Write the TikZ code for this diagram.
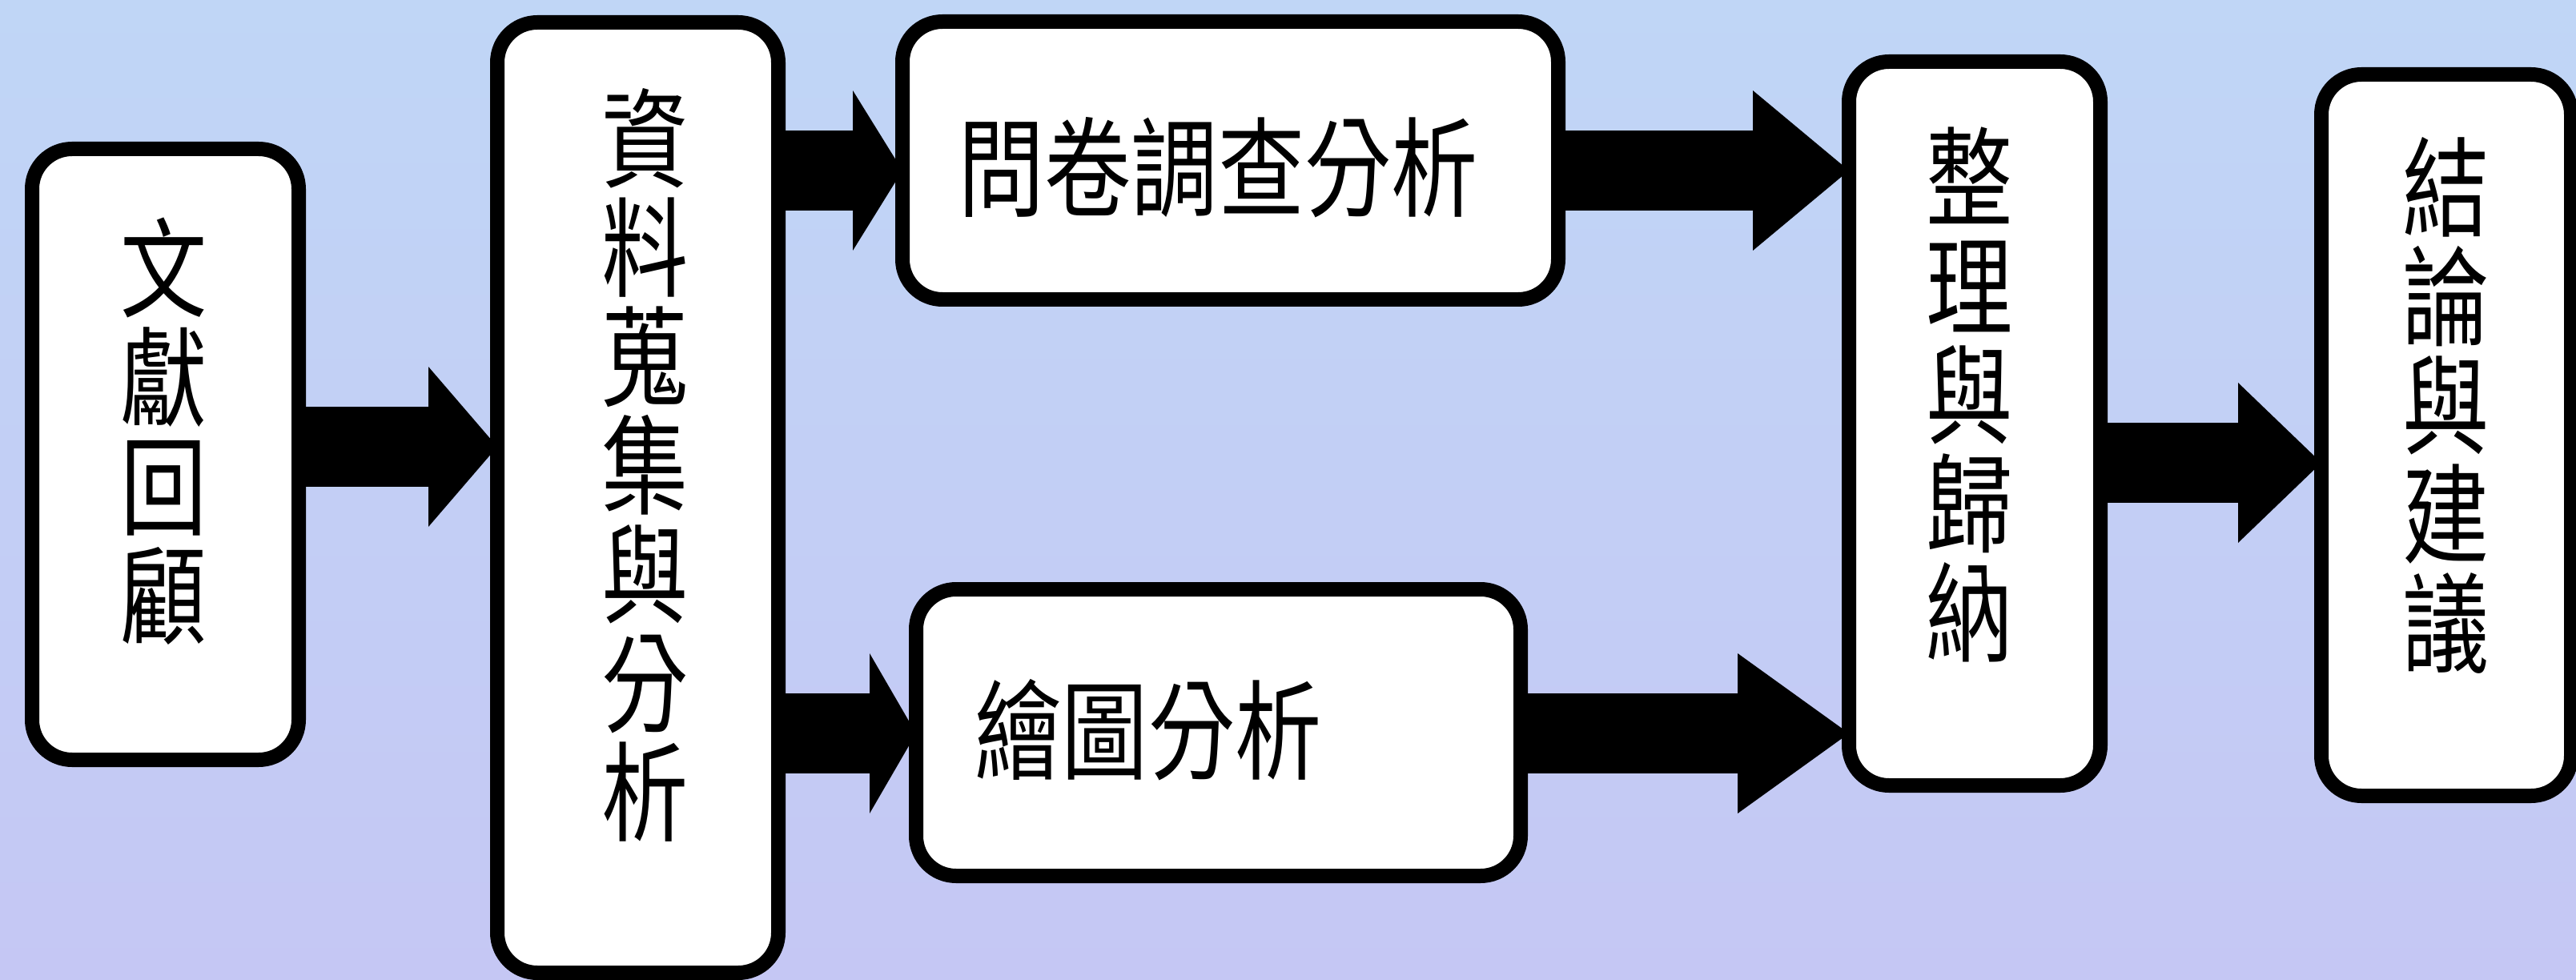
\documentclass[tikz,border=0pt]{standalone}
\usepackage{fontspec}
\newfontfamily\cjk{Noto Sans CJK TC}[FakeStretch=0.8]
\usetikzlibrary{arrows.meta}
\definecolor{bgtop}{RGB}{192,214,246}
\definecolor{bgmid}{RGB}{189,201,243}
\definecolor{bgbot}{RGB}{197,199,244}
\begin{document}
\begin{tikzpicture}[x=1cm,y=1cm,
  box/.style={rectangle, draw=black, fill=white, line width=0.18cm, rounded corners=0.5cm, inner sep=0pt, outer sep=0pt},
  lbl/.style={font=\cjk\fontsize{38.5pt}{38.7pt}\selectfont, align=center, inner sep=0pt, text=black},
  bigarrow/.style={draw=black, line width=1cm, -{Triangle[length=#1, width=2cm, line width=0pt]}},
]
\useasboundingbox (0,0) rectangle (32.17,-12.24);
\shade[top color=bgtop, middle color=bgmid, bottom color=bgbot] (0,0) rectangle (32.17,-12.24);

% boxes
\node[box, minimum width=3.33cm, minimum height=7.63cm]  (b1) at (2.065,-5.675) {};
\node[box, minimum width=3.51cm, minimum height=11.87cm] (b2) at (7.965,-6.215) {};
\node[box, minimum width=8.19cm, minimum height=3.47cm]  (b3) at (15.365,-2.005) {};
\node[box, minimum width=7.55cm, minimum height=3.58cm]  (b4) at (15.215,-9.15) {};
\node[box, minimum width=3.14cm, minimum height=9.04cm]  (b5) at (24.66,-5.29) {};
\node[box, minimum width=3.12cm, minimum height=9.01cm]  (b6) at (30.55,-5.435) {};

% texts
\node[lbl] (t1) at (2.05,-5.39)  {文\\獻\\回\\顧};
\node[lbl] (t2) at (8.06,-5.81)  {資\\料\\蒐\\集\\與\\分\\析};
\node[lbl] (t3) at (15.21,-2.09) {問卷調查分析};
\node[lbl] (t4) at (14.34,-9.12) {繪圖分析};
\node[lbl] (t5) at (24.60,-4.93) {整\\理\\與\\歸\\納};
\node[lbl] (t6) at (30.55,-5.06) {結\\論\\與\\建\\議};

% arrow levels
\coordinate (yA) at (0,-5.58);
\coordinate (yB) at (0,-2.13);
\coordinate (yC) at (0,-9.16);
\coordinate (yD) at (0,-5.78);

% arrows
\draw[bigarrow=0.86cm] (b1.east |- yA) -- (b2.west |- yA);
\draw[bigarrow=0.62cm] (b2.east |- yB) -- (b3.west |- yB);
\draw[bigarrow=0.58cm] (b2.east |- yC) -- (b4.west |- yC);
\draw[bigarrow=1.20cm] (b3.east |- yB) -- (b5.west |- yB);
\draw[bigarrow=1.39cm] (b4.east |- yC) -- (b5.west |- yC);
\draw[bigarrow=1.04cm] (b5.east |- yD) -- (b6.west |- yD);
\end{tikzpicture}
\end{document}
